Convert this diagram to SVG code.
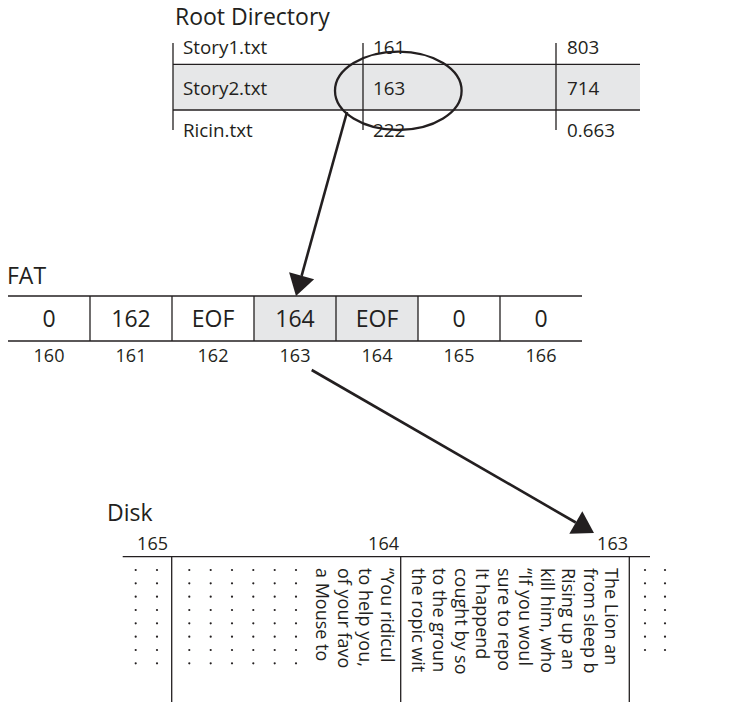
<svg xmlns="http://www.w3.org/2000/svg" width="748" height="702" viewBox="0 0 748 702">
<style>
text{font-family:"Open Sans","Liberation Sans",sans-serif;fill:#231f20}
.title{font-size:23px}
.sm{font-size:18px}
.rd{font-size:18.8px}
.big{font-size:23px}
.ln{stroke:#231f20;stroke-width:1.3;fill:none}
.band{fill:#e6e7e8}
.dot{fill:#231f20}
.arrow{stroke:#231f20;stroke-width:2.6;fill:none;marker-end:url(#head)}
</style>
<defs>
<marker id="head" markerUnits="userSpaceOnUse" markerWidth="24" markerHeight="28" viewBox="0 -14 22 28" refX="0" refY="0" orient="auto">
<path d="M0,-13 L21,0 L0,13 Z" fill="#231f20"/>
</marker>
<circle id="d" r="1.1" class="dot"/>
</defs>
<rect width="748" height="702" fill="#ffffff"/>

<g id="root-directory">
<text class="title" x="175" y="25">Root Directory</text>
<rect class="band" x="173" y="64.3" width="467" height="45.7"/>
<line class="ln" x1="173" y1="64.3" x2="640" y2="64.3"/>
<line class="ln" x1="173" y1="110" x2="640" y2="110"/>
<line class="ln" x1="173" y1="43" x2="173" y2="130"/>
<line class="ln" x1="363" y1="43" x2="363" y2="130"/>
<line class="ln" x1="556" y1="43" x2="556" y2="130"/>
<text class="rd" x="183" y="54">Story1.txt</text>
<text class="rd" x="373" y="54">161</text>
<text class="rd" x="567" y="54">803</text>
<text class="rd" x="183" y="95">Story2.txt</text>
<text class="rd" x="373" y="95">163</text>
<text class="rd" x="567" y="95">714</text>
<text class="rd" x="183" y="137">Ricin.txt</text>
<text class="rd" x="373" y="137">222</text>
<text class="rd" x="567" y="137">0.663</text>
<ellipse cx="398.3" cy="90.8" rx="63.3" ry="39.2" fill="none" stroke="#231f20" stroke-width="2.3"/>
</g>

<g id="fat">
<text class="title" x="7" y="284">FAT</text>
<rect class="band" x="254" y="296" width="164" height="45"/>
<line class="ln" x1="8" y1="296" x2="582" y2="296"/>
<line class="ln" x1="8" y1="341" x2="582" y2="341"/>
<line class="ln" x1="90" y1="296" x2="90" y2="341"/>
<line class="ln" x1="172" y1="296" x2="172" y2="341"/>
<line class="ln" x1="254" y1="296" x2="254" y2="341"/>
<line class="ln" x1="336" y1="296" x2="336" y2="341"/>
<line class="ln" x1="418" y1="296" x2="418" y2="341"/>
<line class="ln" x1="500" y1="296" x2="500" y2="341"/>
<g text-anchor="middle">
<text class="big" x="49" y="327">0</text>
<text class="big" x="131" y="327">162</text>
<text class="big" x="213" y="327">EOF</text>
<text class="big" x="295" y="327">164</text>
<text class="big" x="377" y="327">EOF</text>
<text class="big" x="459" y="327">0</text>
<text class="big" x="541" y="327">0</text>
<text class="sm" x="49" y="362">160</text>
<text class="sm" x="131" y="362">161</text>
<text class="sm" x="213" y="362">162</text>
<text class="sm" x="295" y="362">163</text>
<text class="sm" x="377" y="362">164</text>
<text class="sm" x="459" y="362">165</text>
<text class="sm" x="541" y="362">166</text>
</g>
</g>

<g id="disk">
<text class="title" x="107" y="521">Disk</text>
<line class="ln" x1="122.7" y1="556.7" x2="650" y2="556.7"/>
<line class="ln" x1="171.7" y1="556.7" x2="171.7" y2="702"/>
<line class="ln" x1="400.7" y1="556.7" x2="400.7" y2="702"/>
<line class="ln" x1="629.3" y1="556.7" x2="629.3" y2="702"/>
<g text-anchor="end">
<text class="sm" x="168" y="550">165</text>
<text class="sm" x="399" y="550">164</text>
<text class="sm" x="628" y="550">163</text>
</g>
<g id="dots-165">
<use href="#d" x="135.7" y="570"/><use href="#d" x="157" y="570"/>
<use href="#d" x="135.7" y="583.3"/><use href="#d" x="157" y="583.3"/>
<use href="#d" x="135.7" y="596.7"/><use href="#d" x="157" y="596.7"/>
<use href="#d" x="135.7" y="610"/><use href="#d" x="157" y="610"/>
<use href="#d" x="135.7" y="623.3"/><use href="#d" x="157" y="623.3"/>
<use href="#d" x="135.7" y="636.7"/><use href="#d" x="157" y="636.7"/>
<use href="#d" x="135.7" y="650"/><use href="#d" x="157" y="650"/>
<use href="#d" x="135.7" y="663.3"/><use href="#d" x="157" y="663.3"/>
</g>
<g id="dots-164">
<use href="#d" x="189.3" y="570"/><use href="#d" x="210.7" y="570"/><use href="#d" x="232" y="570"/><use href="#d" x="253.3" y="570"/><use href="#d" x="274.7" y="570"/><use href="#d" x="296" y="570"/>
<use href="#d" x="189.3" y="583.3"/><use href="#d" x="210.7" y="583.3"/><use href="#d" x="232" y="583.3"/><use href="#d" x="253.3" y="583.3"/><use href="#d" x="274.7" y="583.3"/><use href="#d" x="296" y="583.3"/>
<use href="#d" x="189.3" y="596.7"/><use href="#d" x="210.7" y="596.7"/><use href="#d" x="232" y="596.7"/><use href="#d" x="253.3" y="596.7"/><use href="#d" x="274.7" y="596.7"/><use href="#d" x="296" y="596.7"/>
<use href="#d" x="189.3" y="610"/><use href="#d" x="210.7" y="610"/><use href="#d" x="232" y="610"/><use href="#d" x="253.3" y="610"/><use href="#d" x="274.7" y="610"/><use href="#d" x="296" y="610"/>
<use href="#d" x="189.3" y="623.3"/><use href="#d" x="210.7" y="623.3"/><use href="#d" x="232" y="623.3"/><use href="#d" x="253.3" y="623.3"/><use href="#d" x="274.7" y="623.3"/><use href="#d" x="296" y="623.3"/>
<use href="#d" x="189.3" y="636.7"/><use href="#d" x="210.7" y="636.7"/><use href="#d" x="232" y="636.7"/><use href="#d" x="253.3" y="636.7"/><use href="#d" x="274.7" y="636.7"/><use href="#d" x="296" y="636.7"/>
<use href="#d" x="189.3" y="650"/><use href="#d" x="210.7" y="650"/><use href="#d" x="232" y="650"/><use href="#d" x="253.3" y="650"/><use href="#d" x="274.7" y="650"/><use href="#d" x="296" y="650"/>
<use href="#d" x="189.3" y="663.3"/><use href="#d" x="210.7" y="663.3"/><use href="#d" x="232" y="663.3"/><use href="#d" x="253.3" y="663.3"/><use href="#d" x="274.7" y="663.3"/><use href="#d" x="296" y="663.3"/>
</g>
<g id="dots-166">
<use href="#d" x="645" y="570"/><use href="#d" x="665" y="570"/>
<use href="#d" x="645" y="583.3"/><use href="#d" x="665" y="583.3"/>
<use href="#d" x="645" y="596.7"/><use href="#d" x="665" y="596.7"/>
<use href="#d" x="645" y="610"/><use href="#d" x="665" y="610"/>
<use href="#d" x="645" y="623.3"/><use href="#d" x="665" y="623.3"/>
<use href="#d" x="645" y="636.7"/><use href="#d" x="665" y="636.7"/>
<use href="#d" x="645" y="650"/><use href="#d" x="665" y="650"/>
</g>
<g transform="rotate(90)">
<text class="sm" x="568" y="-380.5">“You ridicul</text>
<text class="sm" x="568" y="-359">to help you,</text>
<text class="sm" x="568" y="-337.5">of your favo</text>
<text class="sm" x="568" y="-316">a Mouse to</text>
<text class="sm" x="568" y="-605">The Lion an</text>
<text class="sm" x="568" y="-583.5">from sleep b</text>
<text class="sm" x="568" y="-562">Rising up an</text>
<text class="sm" x="568" y="-540.5">kill him, who</text>
<text class="sm" x="568" y="-519">“If you woul</text>
<text class="sm" x="568" y="-497.5">sure to repo</text>
<text class="sm" x="568" y="-476">It happend</text>
<text class="sm" x="568" y="-454.5">cought by so</text>
<text class="sm" x="568" y="-433">to the groun</text>
<text class="sm" x="568" y="-411.5">the ropic wit</text>
</g>
</g>

<g id="connectors">
<line class="arrow" x1="347" y1="112" x2="301.6" y2="275.8"/>
<line class="arrow" x1="311.7" y1="370" x2="575.8" y2="522.5"/>
</g>
</svg>
